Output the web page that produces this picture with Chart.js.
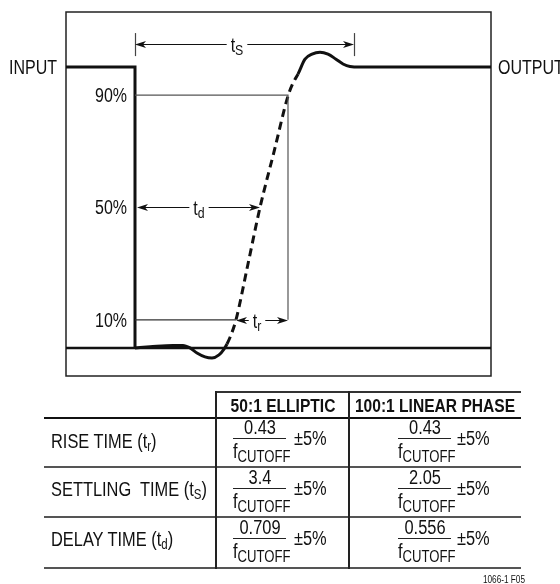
<!DOCTYPE html>
<html><head><meta charset="utf-8">
<script src="https://cdn.jsdelivr.net/npm/chart.js@4"></script>
<style>
html,body{margin:0;padding:0;background:#fff;}
#wrap{position:relative;width:560px;height:584px;overflow:hidden;font-family:'Liberation Sans',Arial,sans-serif;color:#111;}
#c{position:absolute;left:0;top:0;}
.t{position:absolute;white-space:pre;}
.ln{position:absolute;}
</style></head><body><div id="wrap"><canvas id="c" width="560" height="584"></canvas></div>
<script>
// ---------- data (time in arbitrary units, level in % of final output) ----------
const outputT   = [0, 1.5, 3.8, 4.8, 5.5, 6.2, 7.0, 7.7, 8.4, 8.9, 9.2, 9.6, 10.1, 11.3, 12.5, 13.9, 15.3, 15.8, 16.3, 17.0, 17.7, 18.5, 19.3, 20.1, 20.8, 21.5, 22.5, 35.6];
const outputPct = [0, 0.4, 0.9, 0.9, 0, -1.8, -3.2, -3.6, -2.5, -0.4, 1.4, 4.6, 10, 29.9, 50, 69.8, 89.7, 94.3, 97.5, 102.8, 104.6, 105.3, 104.6, 102.8, 101.1, 100.2, 100, 100];
const dashedFromT = 9.2, dashedToT = 16.3;
const inputT    = [-6.9, 0, 0];
const inputPct  = [100, 100, 0];
const baseT     = [-6.9, 35.6];
const basePct   = [0, 0];
const guide90T  = [0, 15.3, 15.3];
const guide90Pct= [90, 90, 10];
const guide10T  = [0, 10.1];
const guide10Pct= [10, 10];
const levelTicks  = [10, 50, 90];
const levelLabels = ['10%', '50%', '90%'];
const arrowFrom   = [0, 0.2, 10.1];
const arrowTo     = [21.9, 12.5, 15.3];
const arrowLevel  = [108.2, 50, 10];
const arrowLabelAt= [10.2, 6.4, 12.2];
const arrowMain   = ['t', 't', 't'];
const arrowSub    = ['S', 'd', 'r'];
const tsTickT     = [0, 21.9];
const tsTickPct   = [103.9, 112.1];
const sideLevel   = 100;
const inputLabel = 'INPUT', outputLabel = 'OUTPUT';

const tableCols   = ['50:1 ELLIPTIC', '100:1 LINEAR PHASE'];
const rowNames    = ['RISE TIME (t', 'SETTLING  TIME (t', 'DELAY TIME (t'];
const rowSubs     = ['r', 'S', 'd'];
const ellipticNum = ['0.43', '3.4', '0.709'];
const linearNum   = ['0.43', '2.05', '0.556'];
const denomMain = 'f', denomSub = 'CUTOFF', tolerance = '±5%';
const figId = '1066-1 F05';

// ---------- chart ----------
const FONT = "'Liberation Sans',Arial,sans-serif";
const K = 0.82; // narrow (condensed) lettering
const zip = (xs, ys) => xs.map((v, i) => ({x: v, y: ys[i]}));

function narrowText(ctx, str, x, yb, size, align) {
  ctx.font = size + 'px ' + FONT;
  const w = ctx.measureText(str).width * K;
  let left = x;
  if (align === 'right') left = x - w; else if (align === 'center') left = x - w / 2;
  ctx.save(); ctx.translate(left, yb); ctx.scale(K, 1);
  ctx.textAlign = 'left'; ctx.textBaseline = 'alphabetic'; ctx.fillText(str, 0, 0);
  ctx.restore();
  return w;
}
function textW(ctx, str, size) { ctx.font = size + 'px ' + FONT; return ctx.measureText(str).width * K; }
function subText(ctx, cx, yb, main, sub) {
  const w1 = textW(ctx, main, 19.5), w2 = textW(ctx, sub, 15);
  const left = cx - (w1 + w2) / 2;
  narrowText(ctx, main, left, yb + 7, 19.5, 'left');
  narrowText(ctx, sub, left + w1, yb + 10, 15, 'left');
  return [left, left + w1 + w2];
}
function head(ctx, tipX, y, dir) {
  ctx.beginPath(); ctx.moveTo(tipX, y);
  ctx.lineTo(tipX - dir * 11, y - 3.5); ctx.lineTo(tipX - dir * 8, y); ctx.lineTo(tipX - dir * 11, y + 3.5);
  ctx.closePath(); ctx.fill();
}

const annot = {
  id: 'annot',
  beforeDatasetsDraw(chart) {
    const {ctx, chartArea: a} = chart;
    ctx.save(); ctx.strokeStyle = '#222'; ctx.lineWidth = 1.5;
    ctx.strokeRect(a.left, a.top, a.right - a.left, a.bottom - a.top);
    ctx.restore();
  },
  afterDatasetsDraw(chart) {
    const {ctx, chartArea: a, scales: {x, y}} = chart;
    ctx.save();
    ctx.fillStyle = '#111'; ctx.strokeStyle = '#111';
    const ys = y.getPixelForValue(sideLevel) + 7;
    narrowText(ctx, inputLabel, a.left - 9, ys, 19.5, 'right');
    narrowText(ctx, outputLabel, a.right + 7, ys, 19.5, 'left');
    levelTicks.forEach((v, i) => narrowText(ctx, levelLabels[i], x.getPixelForValue(0) - 8, y.getPixelForValue(v) + 7, 19.5, 'right'));
    ctx.strokeStyle = '#444'; ctx.lineWidth = 1.2;
    tsTickT.forEach(t => {
      const px = Math.round(x.getPixelForValue(t)) + 0.5;
      ctx.beginPath(); ctx.moveTo(px, y.getPixelForValue(tsTickPct[0])); ctx.lineTo(px, y.getPixelForValue(tsTickPct[1])); ctx.stroke();
    });
    ctx.strokeStyle = '#111'; ctx.lineWidth = 1.2;
    arrowFrom.forEach((f, i) => {
      const x0 = x.getPixelForValue(f), x1 = x.getPixelForValue(arrowTo[i]);
      const py = Math.round(y.getPixelForValue(arrowLevel[i])) + 0.5;
      const [L, R] = subText(ctx, x.getPixelForValue(arrowLabelAt[i]), py, arrowMain[i], arrowSub[i]);
      ctx.beginPath(); ctx.moveTo(x0 + 6, py); ctx.lineTo(L - 4, py); ctx.moveTo(R + 4, py); ctx.lineTo(x1 - 6, py); ctx.stroke();
      head(ctx, x0, py, -1); head(ctx, x1, py, 1);
    });
    ctx.restore();
  }
};

const lineDs = (data, color, width, extra) => Object.assign({data, borderColor: color, borderWidth: width, showLine: true,
  pointRadius: 0, fill: false, borderCapStyle: 'butt', borderJoinStyle: 'miter', tension: 0}, extra || {});

new Chart(document.getElementById('c'), {
  type: 'scatter',
  data: {datasets: [
    lineDs(zip(guide90T, guide90Pct), '#555', 1.2),
    lineDs(zip(guide10T, guide10Pct), '#333', 1.2),
    lineDs(zip(baseT, basePct), '#111', 2.5),
    lineDs(zip(inputT, inputPct), '#111', 3),
    lineDs(zip(outputT, outputPct), '#111', 3, {cubicInterpolationMode: 'monotone',
      segment: {borderDash: c => (c.p0.parsed.x >= dashedFromT - 1e-6 && c.p1.parsed.x <= dashedToT + 1e-6) ? [8, 5] : undefined}})
  ]},
  options: {
    responsive: false, animation: false, events: [],
    layout: {padding: {left: 66, right: 69, top: 12, bottom: 208}},
    plugins: {legend: {display: false}, tooltip: {enabled: false}, title: {display: false}},
    scales: {
      x: {type: 'linear', min: -6.9, max: 35.6, display: false},
      y: {type: 'linear', min: -10, max: 119.6, display: false}
    }
  },
  plugins: [annot]
});

// ---------- table (HTML text) ----------
const wrap = document.getElementById('wrap');
function line(l, t, w, h, col) {
  const d = document.createElement('div'); d.className = 'ln';
  Object.assign(d.style, {left: l + 'px', top: t + 'px', width: w + 'px', height: h + 'px', background: col});
  wrap.appendChild(d);
}
function text(html, x, base, size, opts) {
  opts = opts || {};
  const d = document.createElement('div'); d.className = 't';
  d.innerHTML = html;
  const top = Math.round(base - 0.8465 * size);
  Object.assign(d.style, {top: top + 'px', fontSize: size + 'px', lineHeight: size + 'px', fontWeight: opts.bold ? 'bold' : 'normal'});
  if (opts.align === 'center') {
    d.style.left = (x - 150) + 'px'; d.style.width = '300px'; d.style.textAlign = 'center';
    d.style.transform = 'scaleX(' + K + ')'; d.style.transformOrigin = '50% 50%';
  } else {
    d.style.left = x + 'px'; d.style.transform = 'scaleX(' + K + ')'; d.style.transformOrigin = '0 50%';
  }
  wrap.appendChild(d);
}
line(216, 391, 305, 1.5, '#333');
line(44, 416.5, 477, 2, '#111');
line(44, 466, 477, 1.5, '#555');
line(44, 516, 477, 1.5, '#555');
line(44, 567, 477, 1.5, '#555');
line(215, 391, 1.5, 177.5, '#222');
line(348, 391, 1.5, 177.5, '#222');

const colCenters = [282.5, 435];
tableCols.forEach((c, i) => text(c, colCenters[i], 412, 19, {bold: true, align: 'center'}));
const labelBase = [448, 496, 546];
rowNames.forEach((n, i) => text(n + '<span style="font-size:14px;position:relative;top:3px">' + rowSubs[i] + '</span>)', 51, labelBase[i], 20));

const barLeft = [233, 398], tolLeft = [294, 457], barW = 53;
const barY = [438, 488, 538];
[ellipticNum, linearNum].forEach((nums, c) => {
  nums.forEach((num, r) => {
    const by = barY[r];
    line(barLeft[c], by, barW, 1.3, '#222');
    text(num, barLeft[c] + barW / 2, by - 4, 20, {align: 'center'});
    text(denomMain + '<span style="font-size:16px;position:relative;top:4px">' + denomSub + '</span>', barLeft[c], by + 20, 20);
    text(tolerance, tolLeft[c], by + 7, 20);
  });
});
text(figId, 483, 583, 10);
</script></body></html>
